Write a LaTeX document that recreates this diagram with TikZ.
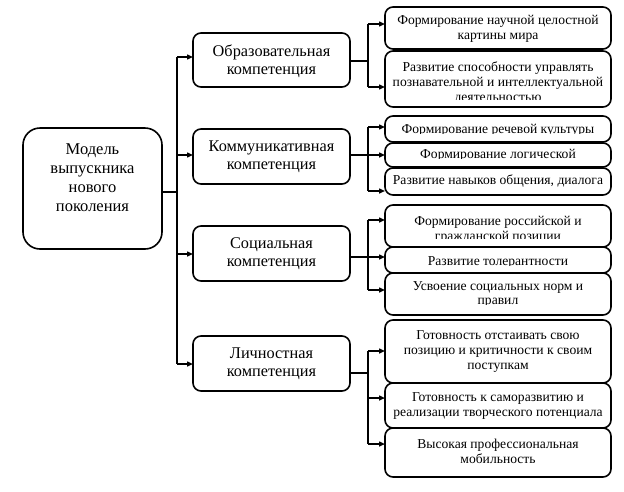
\documentclass[tikz,border=0pt]{standalone}
\usepackage{fontspec}
\setmainfont{Liberation Serif}
\usetikzlibrary{arrows.meta}
\tikzset{
 clipin/.store in=\clipin, clipin=8,
 bx/.style={draw, line width=1.6pt, rounded corners=8pt, inner sep=0pt, outer sep=0pt},
 mainbx/.style={bx, rounded corners=17pt},
 txt/.style={align=center, inner sep=0pt},
 rtxt/.style={txt, font=\fontsize{13.6}{14.8}\selectfont},
 ctxt/.style={txt, font=\fontsize{16.3}{18.5}\selectfont},
 mtxt/.style={txt, font=\fontsize{16.5}{19}\selectfont},
 ln/.style={line width=1.4pt},
 arr/.style={ln, -{Triangle[length=6pt,width=5pt]}},
}
% style, textstyle, name, x1, y1, x2, y2, text-centre offset from top, text
\newcommand\bx[9]{%
 \node[#1, minimum width=#6pt-#4pt, minimum height=#7pt-#5pt,
   path picture={\clip ([yshift=\clipin pt]path picture bounding box.south west) rectangle (path picture bounding box.north east);
     \node[#2] (#3-t) at ([yshift=-#8pt]path picture bounding box.north) {#9};}]
   (#3) at ({(#4+#6)/2},{(#5+#7)/2}) {};}
\begin{document}
\begin{tikzpicture}[x=1pt,y=-1pt]
\useasboundingbox (0,0) rectangle (624,491);
% main
\bx{mainbx}{mtxt}{main}{23}{128}{162}{249}{50}{Модель\\выпускника\\нового\\поколения}
% competences
\bx{bx}{ctxt}{obr}{193}{33}{350}{87}{28}{Образовательная\\компетенция}
\bx{bx}{ctxt}{kom}{193}{129}{350}{184}{27.5}{Коммуникативная\\компетенция}
\bx{bx}{ctxt}{soc}{193}{226}{350}{281}{27.5}{Социальная\\компетенция}
\bx{bx}{ctxt}{lic}{193}{336}{350}{391}{27.5}{Личностная\\компетенция}
% right boxes
\bx{bx}{rtxt}{r1}{385}{7}{611}{49}{22}{Формирование научной целостной\\картины мира}
\bx{bx,clipin=7.5}{rtxt}{r2}{385}{51}{611}{107}{32}{Развитие способности управлять\\познавательной и интеллектуальной\\деятельностью}
\bx{bx,clipin=8.7}{rtxt}{r3}{385}{116}{611}{142}{14.2}{Формирование речевой культуры}
\bx{bx,clipin=9}{rtxt}{r4}{385}{143}{611}{167}{12}{Формирование логической}
\bx{bx}{rtxt}{r5}{385}{168}{611}{195}{13.2}{Развитие навыков общения, диалога}
\bx{bx,clipin=8.5}{rtxt}{r6}{385}{205}{611}{247}{24.5}{Формирование российской и\\гражданской позиции}
\bx{bx,clipin=8}{rtxt}{r7}{385}{247}{611}{273}{15.2}{Развитие толерантности}
\bx{bx,clipin=10.5}{rtxt}{r8}{385}{273}{611}{315}{21.5}{Усвоение социальных норм и\\правил}
\bx{bx}{rtxt}{r9}{385}{320}{611}{383}{31.5}{Готовность отстаивать свою\\позицию и критичности к своим\\поступкам}
\bx{bx}{rtxt}{r10}{385}{383}{611}{428}{23}{Готовность к саморазвитию и\\реализации творческого потенциала}
\bx{bx}{rtxt}{r11}{385}{428}{611}{477}{23}{Высокая профессиональная\\мобильность}
% trunk
\coordinate (j) at (177,192);
\coordinate (t1) at (177,57);
\coordinate (t2) at (177,155);
\coordinate (t3) at (177,254);
\coordinate (t4) at (177,364);
\draw[ln] (main.east |- j) -- (j);
\draw[ln] (t1) -- (t4);
\draw[arr] (t1) -- (obr.west |- t1);
\draw[arr] (t2) -- (kom.west |- t2);
\draw[arr] (t3) -- (soc.west |- t3);
\draw[arr] (t4) -- (lic.west |- t4);
% brackets
\coordinate (o0) at (368,61);
\coordinate (oa) at (368,24);
\coordinate (ob) at (368,87);
\draw[ln] (obr.east |- o0) -- (o0);
\draw[ln] (oa) -- (ob);
\draw[arr] (oa) -- (r1.west |- oa);
\draw[arr] (ob) -- (r2.west |- ob);
\coordinate (k0) at (368,155);
\coordinate (ka) at (368,127);
\coordinate (kb) at (368,155);
\coordinate (kc) at (368,191);
\draw[ln] (kom.east |- k0) -- (k0);
\draw[ln] (ka) -- (kc);
\draw[arr] (ka) -- (r3.west |- ka);
\draw[arr] (kb) -- (r4.west |- kb);
\draw[arr] (kc) -- (r5.west |- kc);
\coordinate (s0) at (368,257);
\coordinate (sa) at (368,220);
\coordinate (sb) at (368,257);
\coordinate (sc) at (368,290);
\draw[ln] (soc.east |- s0) -- (s0);
\draw[ln] (sa) -- (sc);
\draw[arr] (sa) -- (r6.west |- sa);
\draw[arr] (sb) -- (r7.west |- sb);
\draw[arr] (sc) -- (r8.west |- sc);
\coordinate (l0) at (368,373);
\coordinate (la) at (368,351);
\coordinate (lb) at (368,398);
\coordinate (lc) at (368,444);
\draw[ln] (lic.east |- l0) -- (l0);
\draw[ln] (la) -- (lc);
\draw[arr] (la) -- (r9.west |- la);
\draw[arr] (lb) -- (r10.west |- lb);
\draw[arr] (lc) -- (r11.west |- lc);
\end{tikzpicture}
\end{document}
